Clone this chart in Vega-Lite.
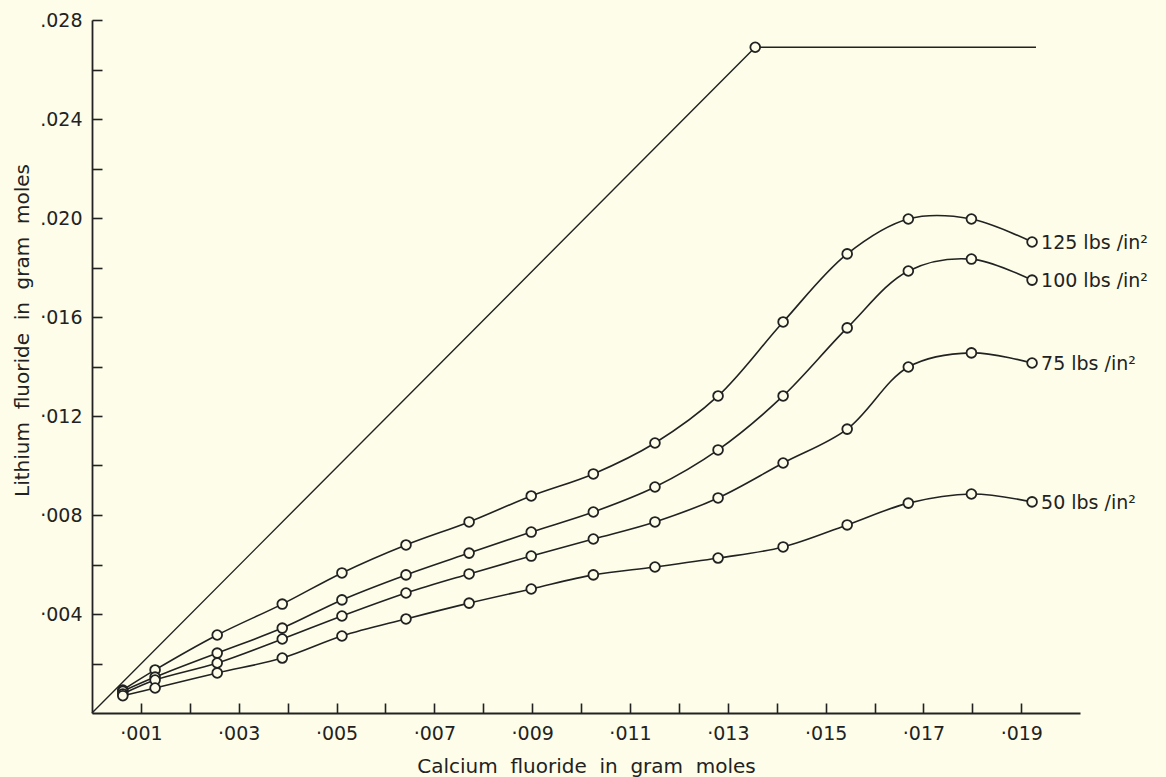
{
  "$schema": "https://vega.github.io/schema/vega-lite/v6.json",
  "width": 988,
  "height": 693,
  "autosize": {"type": "none"},
  "padding": {"left": 92, "top": 20, "right": 86, "bottom": 64},
  "background": "#fdfde9",
  "config": {"view": {"stroke": null}, "font": "DejaVu Sans"},
  "datasets": {
    "limit": [
      {"x": 0, "y": 0},
      {"x": 0.01356, "y": 0.0269},
      {"x": 0.0193, "y": 0.0269}
    ],
    "corner": [{"x": 0.01356, "y": 0.0269}],
    "curves": [
      {"p": 125, "x": 0.00063, "y": 0.00093}, {"p": 125, "x": 0.00129, "y": 0.00174}, {"p": 125, "x": 0.00256, "y": 0.00315}, {"p": 125, "x": 0.00389, "y": 0.0044}, {"p": 125, "x": 0.00511, "y": 0.00566}, {"p": 125, "x": 0.00642, "y": 0.00679}, {"p": 125, "x": 0.00771, "y": 0.00772}, {"p": 125, "x": 0.00898, "y": 0.00877}, {"p": 125, "x": 0.01025, "y": 0.00966}, {"p": 125, "x": 0.01151, "y": 0.01091}, {"p": 125, "x": 0.0128, "y": 0.01281}, {"p": 125, "x": 0.01413, "y": 0.0158}, {"p": 125, "x": 0.01544, "y": 0.01855}, {"p": 125, "x": 0.01669, "y": 0.01996}, {"p": 125, "x": 0.01798, "y": 0.01996}, {"p": 125, "x": 0.01922, "y": 0.01903},
      {"p": 100, "x": 0.00063, "y": 0.00088}, {"p": 100, "x": 0.00129, "y": 0.00145}, {"p": 100, "x": 0.00256, "y": 0.00242}, {"p": 100, "x": 0.00389, "y": 0.00343}, {"p": 100, "x": 0.00511, "y": 0.00457}, {"p": 100, "x": 0.00642, "y": 0.00558}, {"p": 100, "x": 0.00771, "y": 0.00646}, {"p": 100, "x": 0.00898, "y": 0.00731}, {"p": 100, "x": 0.01025, "y": 0.00812}, {"p": 100, "x": 0.01151, "y": 0.00913}, {"p": 100, "x": 0.0128, "y": 0.01063}, {"p": 100, "x": 0.01413, "y": 0.01281}, {"p": 100, "x": 0.01544, "y": 0.01556}, {"p": 100, "x": 0.01669, "y": 0.01786}, {"p": 100, "x": 0.01798, "y": 0.01834}, {"p": 100, "x": 0.01922, "y": 0.01749},
      {"p": 75, "x": 0.00063, "y": 0.00077}, {"p": 75, "x": 0.00129, "y": 0.00133}, {"p": 75, "x": 0.00256, "y": 0.00202}, {"p": 75, "x": 0.00389, "y": 0.00299}, {"p": 75, "x": 0.00511, "y": 0.00392}, {"p": 75, "x": 0.00642, "y": 0.00485}, {"p": 75, "x": 0.00771, "y": 0.00562}, {"p": 75, "x": 0.00898, "y": 0.00634}, {"p": 75, "x": 0.01025, "y": 0.00703}, {"p": 75, "x": 0.01151, "y": 0.00772}, {"p": 75, "x": 0.0128, "y": 0.00869}, {"p": 75, "x": 0.01413, "y": 0.0101}, {"p": 75, "x": 0.01544, "y": 0.01147}, {"p": 75, "x": 0.01669, "y": 0.01398}, {"p": 75, "x": 0.01798, "y": 0.01455}, {"p": 75, "x": 0.01922, "y": 0.01414},
      {"p": 50, "x": 0.00063, "y": 0.0007}, {"p": 50, "x": 0.00129, "y": 0.00101}, {"p": 50, "x": 0.00256, "y": 0.00162}, {"p": 50, "x": 0.00389, "y": 0.00222}, {"p": 50, "x": 0.00511, "y": 0.00311}, {"p": 50, "x": 0.00642, "y": 0.0038}, {"p": 50, "x": 0.00771, "y": 0.00444}, {"p": 50, "x": 0.00898, "y": 0.00501}, {"p": 50, "x": 0.01025, "y": 0.00558}, {"p": 50, "x": 0.01151, "y": 0.0059}, {"p": 50, "x": 0.0128, "y": 0.00626}, {"p": 50, "x": 0.01413, "y": 0.00671}, {"p": 50, "x": 0.01544, "y": 0.0076}, {"p": 50, "x": 0.01669, "y": 0.00848}, {"p": 50, "x": 0.01798, "y": 0.00885}, {"p": 50, "x": 0.01922, "y": 0.00853}
    ]
  },
  "encoding": {
    "x": {
      "field": "x", "type": "quantitative",
      "scale": {"domain": [0, 0.0202], "nice": false, "zero": false},
      "axis": {
        "title": "Calcium \u00a0fluoride \u00a0in \u00a0gram \u00a0moles",
        "values": [0.001, 0.002, 0.003, 0.004, 0.005, 0.006, 0.007, 0.008, 0.009, 0.01, 0.011, 0.012, 0.013, 0.014, 0.015, 0.016, 0.017, 0.018, 0.019],
        "labelExpr": "round(datum.value*1000) % 2 == 1 ? '·0' + format(round(datum.value*1000), '02d') : ''",
        "grid": false,
        "tickSize": -10, "tickWidth": 1.6, "tickColor": "#222",
        "domainColor": "#222", "domainWidth": 1.8,
        "labelPadding": 21, "labelFontSize": 19, "labelColor": "#222", "labelDx": -6,
        "labelOverlap": false, "labelFlush": false,
        "titleFontSize": 20, "titleFontWeight": "normal", "titleColor": "#222",
        "titleBaseline": "alphabetic", "titleY": 59
      }
    },
    "y": {
      "field": "y", "type": "quantitative",
      "scale": {"domain": [0, 0.028], "nice": false, "zero": false},
      "axis": {
        "title": "Lithium \u00a0fluoride \u00a0in \u00a0gram \u00a0moles",
        "values": [0.002, 0.004, 0.006, 0.008, 0.01, 0.012, 0.014, 0.016, 0.018, 0.02, 0.022, 0.024, 0.026, 0.028],
        "labelExpr": "round(datum.value*1000) % 4 == 0 ? (round(datum.value*1000) >= 20 ? '.0' : '·0') + format(round(datum.value*1000), '02d') : ''",
        "grid": false,
        "tickSize": -10, "tickWidth": 1.6, "tickColor": "#222",
        "domainColor": "#222", "domainWidth": 1.8,
        "labelPadding": 20, "labelFontSize": 19, "labelColor": "#222",
        "labelOverlap": false, "labelFlush": false,
        "titleFontSize": 20, "titleFontWeight": "normal", "titleColor": "#222",
        "titleX": -70, "titleY": 310, "titleAlign": "center", "titleBaseline": "middle", "titleAngle": -90
      }
    }
  },
  "layer": [
    {
      "data": {"name": "limit"},
      "mark": {"type": "line", "color": "#222", "strokeWidth": 1.4, "interpolate": "linear"}
    },
    {
      "data": {"name": "corner"},
      "mark": {"type": "point", "shape": "circle", "size": 95, "filled": false, "fill": "#fdfde9", "fillOpacity": 1, "stroke": "#222", "strokeWidth": 1.8, "opacity": 1}
    },
    {
      "data": {"name": "curves"},
      "mark": {"type": "line", "color": "#222", "strokeWidth": 1.6, "interpolate": "catmull-rom"},
      "encoding": {"detail": {"field": "p", "type": "nominal"}}
    },
    {
      "data": {"name": "curves"},
      "mark": {"type": "point", "shape": "circle", "size": 95, "filled": false, "fill": "#fdfde9", "fillOpacity": 1, "stroke": "#222", "strokeWidth": 1.8, "opacity": 1}
    },
    {
      "data": {"name": "curves"},
      "transform": [
        {"joinaggregate": [{"op": "max", "field": "x", "as": "xmax"}], "groupby": ["p"]},
        {"filter": "datum.x == datum.xmax"},
        {"calculate": "datum.p + ' lbs /in²'", "as": "label"}
      ],
      "mark": {"type": "text", "align": "left", "baseline": "middle", "dx": 9, "dy": 1, "fontSize": 19, "color": "#222"},
      "encoding": {"text": {"field": "label"}}
    }
  ]
}
